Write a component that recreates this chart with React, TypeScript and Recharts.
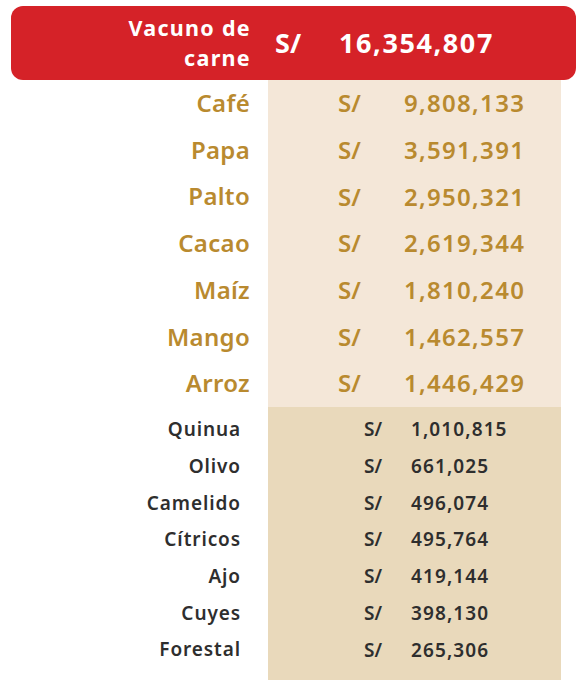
import { BarChart, Bar, XAxis, YAxis, CartesianGrid, LabelList } from "recharts";

const topNames = ["Vacuno de carne"];
const topValues = [16354807];
const midNames = ["Café", "Papa", "Palto", "Cacao", "Maíz", "Mango", "Arroz"];
const midValues = [9808133, 3591391, 2950321, 2619344, 1810240, 1462557, 1446429];
const lowNames = ["Quinua", "Olivo", "Camelido", "Cítricos", "Ajo", "Cuyes", "Forestal"];
const lowValues = [1010815, 661025, 496074, 495764, 419144, 398130, 265306];
const currency = "S/";

const FONT = "'Noto Sans', sans-serif";
const RED = "#d52228";
const GOLD = "#b98a2f";
const DARK = "#2e2e2e";

const fmt = (v: number) => v.toLocaleString("en-US");

const toRows = (names: string[], values: number[]) =>
  names.map((name, i) => ({ name, value: values[i] }));

// value cell: "S/" + amount, placed from the plot's left edge
const valueCell = (sx: number, vx: number, size: number, color: string, weight: number, spacing: number) =>
  (props: any) => {
    const { x, y, height, value } = props;
    const cy = y + height / 2;
    return (
      <g>
        <text x={x + sx} y={cy} dy="0.36em" fill={color} fontSize={size} fontWeight={weight} fontFamily={FONT}>
          {currency}
        </text>
        <text
          x={x + vx}
          y={cy}
          dy="0.36em"
          fill={color}
          fontSize={size}
          fontWeight={weight}
          fontFamily={FONT}
          letterSpacing={spacing}
        >
          {fmt(value)}
        </text>
      </g>
    );
  };

const nameTick = (size: number, color: string, spacing: number) => (props: any) => {
  const { x, y, payload } = props;
  return (
    <text
      x={x}
      y={y}
      dy="0.36em"
      textAnchor="end"
      fill={color}
      fontSize={size}
      fontWeight={600}
      fontFamily={FONT}
      letterSpacing={spacing}
    >
      {payload.value}
    </text>
  );
};

// two-line white label inside the red header
const TopName = (props: any) => {
  const { x, y, height, value } = props;
  const cy = y + height / 2;
  const words = String(value).split(" ");
  const last = words.pop();
  const style = { fill: "#fff", fontSize: 21.5, fontWeight: 700, fontFamily: FONT, letterSpacing: 1.3 };
  return (
    <g>
      <text x={x + 240} y={cy - 15} dy="0.36em" textAnchor="end" {...style}>{words.join(" ")}</text>
      <text x={x + 240} y={cy + 15} dy="0.36em" textAnchor="end" {...style}>{last}</text>
    </g>
  );
};

export default function App() {
  const top = toRows(topNames, topValues);
  const mid = toRows(midNames, midValues);
  const low = toRows(lowNames, lowValues);

  return (
    <div style={{ position: "absolute", left: 0, top: 0, width: 579, height: 680, background: "#fff", overflow: "hidden" }}>
      <div style={{ position: "absolute", left: 0, top: 6 }}>
        <BarChart width={579} height={74} data={top} layout="vertical" barCategoryGap={0}
          margin={{ top: 0, right: 3, left: 11, bottom: 0 }}>
          <XAxis type="number" hide domain={[0, "dataMax"]} />
          <YAxis type="category" dataKey="name" hide />
          <Bar
            dataKey="value"
            fill="transparent"
            isAnimationActive={false}
            background={(p: any) => (
              <rect key="bg" x={p.x} y={p.y} width={p.width} height={p.height} rx={12} ry={12} fill={RED} />
            )}
          >
            <LabelList dataKey="name" content={TopName} />
            <LabelList dataKey="value" content={valueCell(264, 328, 27, "#fff", 700, 1.6)} />
          </Bar>
        </BarChart>
      </div>

      <div style={{ position: "absolute", left: 0, top: 80 }}>
        <BarChart width={579} height={327} data={mid} layout="vertical" barCategoryGap={0}
          margin={{ top: 0, right: 18, left: 0, bottom: 0 }}>
          <CartesianGrid fill="#f4e7d8" horizontal={false} vertical={false} />
          <XAxis type="number" hide domain={[0, "dataMax"]} />
          <YAxis type="category" dataKey="name" width={268} tickSize={0} tickMargin={18}
            axisLine={false} tickLine={false} tick={nameTick(24, GOLD, 0.3)} interval={0} />
          <Bar dataKey="value" fill="transparent" isAnimationActive={false}>
            <LabelList dataKey="value" content={valueCell(70, 136, 24, GOLD, 600, 1.3)} />
          </Bar>
        </BarChart>
      </div>

      <div style={{ position: "absolute", left: 0, top: 407 }}>
        <BarChart width={579} height={273} data={low} layout="vertical" barCategoryGap={0}
          margin={{ top: 0, right: 18, left: 0, bottom: 0 }}>
          <CartesianGrid fill="#e9d9bb" horizontal={false} vertical={false} />
          <XAxis type="number" hide domain={[0, "dataMax"]} />
          <YAxis type="category" dataKey="name" width={268} tickSize={0} tickMargin={27}
            padding={{ top: 4, bottom: 12 }}
            axisLine={false} tickLine={false} tick={nameTick(19, DARK, 0.9)} interval={0} />
          <Bar dataKey="value" fill="transparent" isAnimationActive={false}>
            <LabelList dataKey="value" content={valueCell(96, 143, 19, DARK, 600, 1.1)} />
          </Bar>
        </BarChart>
      </div>
    </div>
  );
}
